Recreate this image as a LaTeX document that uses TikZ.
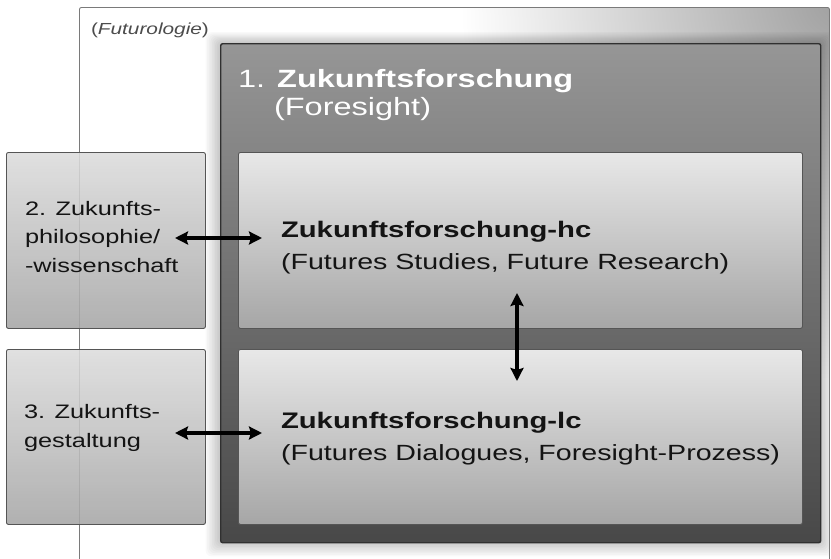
\documentclass[tikz,border=0pt]{standalone}
\usepackage{fontspec}
\setmainfont[FakeStretch=1.3]{Liberation Sans}
\usetikzlibrary{arrows.meta}
\definecolor{outerline}{HTML}{7A7A7A}
\definecolor{darkline}{HTML}{303030}
\definecolor{innerline}{HTML}{555555}
\definecolor{darktop}{HTML}{969696}
\definecolor{darkbot}{HTML}{484848}
\definecolor{lighttop}{HTML}{E8E8E8}
\definecolor{lightbot}{HTML}{A6A6A6}
\tikzset{
  outerbox/.style={draw=outerline, line width=0.9pt, rounded corners=2pt},
  darkbox/.style={draw=darkline, line width=1.4pt, rounded corners=2pt, top color=darktop, bottom color=darkbot},
  innerbox/.style={draw=innerline, line width=0.9pt, rounded corners=2pt, top color=lighttop, bottom color=lightbot},
  sidebox/.style={draw=innerline, line width=0.9pt, rounded corners=2pt, top color=lighttop!95!black, bottom color=lightbot, fill opacity=0.88},
  txt/.style={anchor=base west, inner sep=0pt, outer sep=0pt, text=black!92},
  biarrow/.style={line width=3.4pt, {Stealth[length=13pt,width=13pt,inset=2pt]}-{Stealth[length=13pt,width=13pt,inset=2pt]}}
}
\begin{document}
\begin{tikzpicture}[x=1pt,y=-1pt]
\useasboundingbox (0,0) rectangle (831,558);
\fill[white] (0,0) rectangle (831,558);
% outer Futurologie box
\begin{scope}
  \clip[rounded corners=2pt] (79,7) rectangle (829,570);
  \fill[white] (79,7) rectangle (829,570);
  \shade[inner color=gray!75, outer color=white] (840,0) circle (380);
  % soft shadow of the dark box
  \foreach \i in {1,...,9}{
    \fill[black, opacity=0.022, rounded corners=6pt] (220-1.6*\i,43-1.2*\i) rectangle (820+1.6*\i,542+1.6*\i);
  }
\end{scope}
\node[outerbox, anchor=north west, minimum width=750pt, minimum height=563pt, inner sep=0pt] (futur) at (79,7) {};
\node[txt, font=\fontsize{16}{18}\selectfont, text=black!70] (futurlbl) at (91,34) {(\textit{Futurologie})};
% dark foresight box
\node[darkbox, anchor=north west, minimum width=600pt, minimum height=499pt, inner sep=0pt] (foresight) at (220,43) {};
\node[txt, font=\fontsize{25}{28}\selectfont, text=white] (fs1) at (238,87) {1. \textbf{Zukunftsforschung}};
\node[txt, font=\fontsize{25}{28}\selectfont, text=white] (fs2) at (274,115) {(Foresight)};
% inner boxes
\node[innerbox, anchor=north west, minimum width=564pt, minimum height=176pt, inner sep=0pt] (hc) at (238,152) {};
\node[innerbox, anchor=north west, minimum width=564pt, minimum height=175pt, inner sep=0pt] (lc) at (238,349) {};
\node[txt, font=\fontsize{22.5}{26}\selectfont\bfseries] (hc1) at (281,237) {Zukunftsforschung-hc};
\node[txt, font=\fontsize{22}{26}\selectfont] (hc2) at (281,269) {(Futures Studies, Future Research)};
\node[txt, font=\fontsize{22.5}{26}\selectfont\bfseries] (lc1) at (281,428) {Zukunftsforschung-lc};
\node[txt, font=\fontsize{22}{26}\selectfont] (lc2) at (281,460) {(Futures Dialogues, Foresight-Prozess)};
% side boxes
\node[sidebox, anchor=north west, minimum width=199pt, minimum height=176pt, inner sep=0pt] (phil) at (6,152) {};
\node[sidebox, anchor=north west, minimum width=199pt, minimum height=175pt, inner sep=0pt] (gest) at (6,349) {};
\node[txt, font=\fontsize{19.5}{22}\selectfont] (ph1) at (25,215) {2. Zukunfts-};
\node[txt, font=\fontsize{19.5}{22}\selectfont] (ph2) at (25,243.5) {philosophie/};
\node[txt, font=\fontsize{19.5}{22}\selectfont] (ph3) at (25,272) {-wissenschaft};
\node[txt, font=\fontsize{19.5}{22}\selectfont] (ge1) at (24,418) {3. Zukunfts-};
\node[txt, font=\fontsize{19.5}{22}\selectfont] (ge2) at (24,447) {gestaltung};
% arrows
\coordinate (a1l) at (175,238);
\coordinate (a1r) at (262,238);
\coordinate (a2l) at (175,433);
\coordinate (a2r) at (262,433);
\coordinate (a3t) at (517,293);
\coordinate (a3b) at (517,381);
\draw[biarrow] (a1l) -- (a1r);
\draw[biarrow] (a2l) -- (a2r);
\draw[biarrow] (a3t) -- (a3b);
\end{tikzpicture}
\end{document}
